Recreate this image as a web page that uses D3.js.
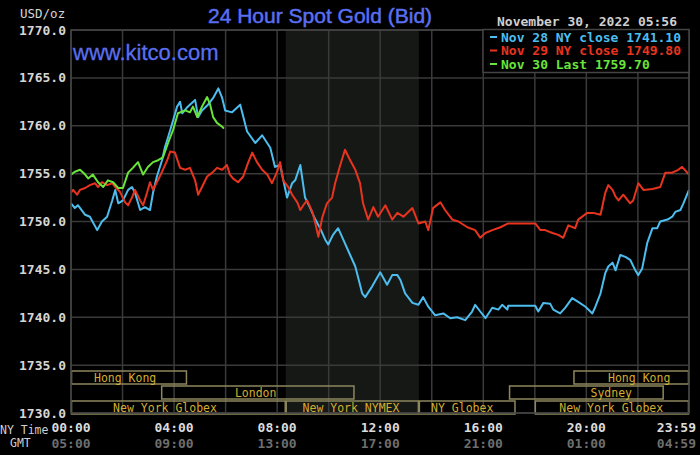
<!DOCTYPE html>
<html>
<head>
<meta charset="utf-8">
<script src="https://cdn.jsdelivr.net/npm/d3@7"></script>
<style>
  html, body { margin: 0; padding: 0; background: #000; }
  svg { display: block; }
  .mono { font-family: "DejaVu Sans Mono", "Liberation Mono", monospace; }
</style>
</head>
<body>
<svg width="700" height="455"></svg>
<script>
// Minutes after 00:00 NY time, and bid price
const nov28Min = [0,9,16,33,44,61,72,84,96,103,110,121,133,142,149,161,172,184,191,200,212,219,226,238,247,254,259,270,282,289,296,305,319,331,343,352,359,375,394,410,429,445,464,475,487,503,515,522,534,545,557,569,580,592,599,610,622,634,650,662,678,685,701,720,736,748,760,767,778,795,809,820,832,848,867,883,899,918,934,941,953,965,981,995,1004,1016,1018,1081,1088,1100,1116,1123,1139,1151,1167,1181,1198,1214,1221,1233,1244,1251,1261,1268,1279,1291,1302,1314,1321,1330,1342,1354,1365,1372,1389,1400,1407,1419,1426,1439];
const nov28Val = [1751.9,1751.4,1751.7,1750.7,1750.5,1749.1,1750.0,1750.5,1752.2,1753.3,1751.9,1752.2,1753.3,1753.6,1753.0,1751.2,1751.5,1751.2,1753.0,1754.7,1756.4,1757.8,1758.8,1760.6,1762.0,1762.5,1761.3,1761.9,1762.4,1762.7,1760.9,1761.6,1762.2,1762.9,1763.9,1762.9,1761.6,1761.4,1762.2,1759.4,1758.2,1759.0,1757.7,1755.7,1755.9,1752.5,1754.0,1754.3,1755.9,1752.5,1751.4,1750.2,1749.3,1748.1,1747.6,1748.6,1749.3,1748.1,1746.5,1745.3,1742.5,1742.1,1743.2,1744.7,1743.4,1744.4,1744.4,1743.9,1742.5,1741.5,1741.3,1742.1,1741.1,1740.2,1740.4,1739.9,1740.0,1739.7,1740.6,1741.3,1740.6,1739.9,1741.0,1740.8,1741.3,1740.8,1741.2,1741.2,1740.6,1741.5,1741.4,1740.8,1740.4,1741.0,1742.0,1741.6,1741.1,1740.4,1741.1,1742.5,1744.6,1745.3,1745.7,1744.9,1746.5,1746.3,1746.0,1744.9,1744.4,1745.1,1747.8,1749.3,1749.3,1750.0,1750.2,1750.5,1751.0,1751.2,1751.9,1753.3];

const nov29Min = [0,5,14,21,33,44,56,63,72,84,96,103,114,126,133,142,149,161,168,177,184,191,200,212,224,231,242,254,266,277,289,296,305,317,329,340,352,363,370,377,389,401,412,422,433,445,457,468,480,487,494,506,515,527,534,541,550,562,569,576,585,596,608,615,627,638,650,662,673,680,692,704,715,732,748,760,774,795,809,825,832,843,860,871,888,902,923,941,953,965,981,1000,1018,1081,1093,1104,1121,1135,1146,1158,1174,1181,1202,1216,1233,1244,1251,1261,1268,1275,1286,1302,1309,1321,1333,1354,1372,1384,1400,1414,1423,1439];
const nov29Val = [1753.0,1753.3,1752.8,1753.3,1753.5,1753.8,1754.0,1753.6,1754.1,1753.8,1754.0,1753.6,1753.1,1752.0,1751.7,1752.5,1753.3,1752.2,1751.7,1753.0,1754.1,1753.3,1754.1,1755.2,1756.4,1757.3,1757.2,1755.6,1755.4,1755.6,1754.3,1752.8,1753.6,1754.7,1755.1,1755.6,1755.4,1755.9,1754.9,1754.5,1754.1,1754.7,1756.1,1757.2,1756.2,1755.4,1754.9,1754.0,1755.2,1756.2,1754.3,1753.6,1752.8,1752.0,1751.2,1751.7,1752.2,1751.0,1749.8,1748.4,1750.4,1751.9,1752.5,1754.0,1755.9,1757.5,1756.4,1755.4,1754.0,1751.9,1750.2,1751.5,1750.5,1751.7,1750.2,1750.9,1750.5,1751.4,1749.8,1750.0,1749.1,1751.4,1752.0,1751.2,1750.2,1750.0,1749.4,1749.1,1748.3,1748.8,1749.1,1749.4,1749.8,1749.8,1749.1,1749.1,1748.8,1748.6,1748.3,1749.6,1749.3,1750.2,1750.9,1750.9,1750.7,1753.0,1753.8,1753.3,1752.6,1752.2,1752.8,1751.9,1752.2,1754.0,1753.3,1753.4,1753.6,1755.1,1755.1,1755.4,1755.7,1754.9];

const nov30Min = [0,9,21,33,40,51,63,75,86,98,110,121,133,144,156,168,179,191,203,214,226,238,249,266,277,284,294,305,317,324,331,340,352,356];
const nov30Val = [1754.9,1755.2,1755.4,1754.9,1754.5,1754.9,1754.1,1753.6,1754.3,1754.1,1753.5,1753.5,1755.1,1755.6,1756.2,1754.9,1755.7,1756.2,1756.4,1756.7,1758.2,1759.6,1761.3,1761.6,1761.4,1762.0,1760.9,1762.0,1763.0,1762.2,1760.9,1760.3,1759.9,1759.7];

const legendLabels = ["Nov 28 NY close 1741.10", "Nov 29 NY close 1749.80", "Nov 30 Last 1759.70"];
const seriesColors = ["#4cbdee", "#e8341f", "#69e43a"];

const yTicks = [1770, 1765, 1760, 1755, 1750, 1745, 1740, 1735, 1730];
const xTicks = [0, 240, 480, 720, 960, 1200, 1439];
const nyLabels = ["00:00", "04:00", "08:00", "12:00", "16:00", "20:00", "23:59"];
const gmtLabels = ["05:00", "09:00", "13:00", "17:00", "21:00", "01:00", "04:59"];

// trading sessions: name, row, start, end, label centre (minutes)
const sessName  = ["Hong Kong", "London", "New York Globex", "New York NYMEX", "NY Globex", "Sydney", "New York Globex", "Hong Kong"];
const sessRow   = [0, 1, 2, 2, 2, 1, 2, 0];
const sessStart = [0, 210, 0, 500, 810, 1020, 1080, 1170];
const sessEnd   = [270, 660, 500, 810, 1035, 1380, 1439, 1439];
const sessMid   = [126, 430, 219, 652, 911, 1258, 1258, 1323];

const svg = d3.select("svg");
const pLeft = 71, pRight = 689, pTop = 30, pBottom = 413;

const x = d3.scaleLinear().domain([0, 1439]).range([pLeft, pRight]);
const y = d3.scaleLinear().domain([1730, 1770]).range([pBottom, pTop]);

svg.append("rect").attr("width", 700).attr("height", 455).attr("fill", "#000");

// NYMEX shading
svg.append("rect")
  .attr("x", x(500)).attr("y", pTop)
  .attr("width", x(810) - x(500)).attr("height", pBottom - pTop)
  .attr("fill", "#151815");

// grid
const grid = svg.append("g").attr("stroke", "#3a3a3a").attr("stroke-width", 1.5);
grid.selectAll("line.h").data(yTicks).join("line")
  .attr("x1", pLeft).attr("x2", pRight)
  .attr("y1", d => y(d)).attr("y2", d => y(d));
grid.selectAll("line.v").data(d3.range(0, 1441, 120)).join("line")
  .attr("y1", pTop).attr("y2", pBottom)
  .attr("x1", d => x(Math.min(d, 1439))).attr("x2", d => x(Math.min(d, 1439)));

// session boxes
const sess = svg.append("g");
const rowTop = r => 371 + r * 15;
sessName.forEach((n, i) => {
  sess.append("rect")
    .attr("x", x(sessStart[i]) + 0.5).attr("y", rowTop(sessRow[i]))
    .attr("width", x(sessEnd[i]) - x(sessStart[i]) - 1).attr("height", 13)
    .attr("fill", "none").attr("stroke", "#8c875c").attr("stroke-width", 1.5);
  sess.append("text").attr("class", "mono")
    .attr("x", x(sessMid[i])).attr("y", rowTop(sessRow[i]) + 10.5)
    .attr("text-anchor", "middle").attr("font-size", 11.5)
    .attr("fill", "#d4ad32").text(n);
});

// lines
const series = [[nov28Min, nov28Val], [nov29Min, nov29Val], [nov30Min, nov30Val]];
const line = d3.line().x(d => x(d[0])).y(d => y(d[1]));
series.forEach((s, i) => {
  svg.append("path")
    .datum(d3.zip(s[0], s[1]))
    .attr("d", line)
    .attr("fill", "none")
    .attr("stroke", seriesColors[i])
    .attr("stroke-width", 2)
    .attr("stroke-linejoin", "round");
});

// y labels
svg.append("g").selectAll("text").data(yTicks).join("text")
  .attr("class", "mono")
  .attr("x", 66).attr("y", d => y(d) + 4.5)
  .attr("text-anchor", "end").attr("font-size", 13).attr("font-weight", "bold")
  .attr("fill", "#d6d6d6")
  .text(d => d.toFixed(1));
svg.append("text").attr("class", "mono")
  .attr("x", 20).attr("y", 18).attr("font-size", 12.5).attr("fill", "#d6d6d6")
  .text("USD/oz");

// x labels
xTicks.forEach((t, i) => {
  const last = i === xTicks.length - 1;
  const xx = last ? 696 : x(t);
  const anchor = last ? "end" : "middle";
  svg.append("text").attr("class", "mono")
    .attr("x", xx).attr("y", 432).attr("text-anchor", anchor)
    .attr("font-size", 13).attr("font-weight", "bold").attr("fill", "#dcdcdc")
    .text(nyLabels[i]);
  svg.append("text").attr("class", "mono")
    .attr("x", xx).attr("y", 448).attr("text-anchor", anchor)
    .attr("font-size", 13).attr("font-weight", "bold").attr("fill", "#6e6e6e")
    .text(gmtLabels[i]);
});
svg.append("text").attr("class", "mono").attr("x", 0).attr("y", 434)
  .attr("font-size", 11.5).attr("fill", "#cfcfcf").text("NY Time");
svg.append("text").attr("class", "mono").attr("x", 10).attr("y", 447)
  .attr("font-size", 11.5).attr("fill", "#cfcfcf").text("GMT");

// border
svg.append("rect")
  .attr("x", pLeft).attr("y", pTop).attr("width", pRight - pLeft).attr("height", pBottom - pTop)
  .attr("fill", "none").attr("stroke", "#444").attr("stroke-width", 1.5);

// titles
svg.append("text")
  .attr("x", 208).attr("y", 23)
  .attr("font-family", "Liberation Sans, Arial, sans-serif").attr("font-size", 21)
  .attr("fill", "#5a6ff0").attr("stroke", "#5a6ff0").attr("stroke-width", 0.5)
  .text("24 Hour Spot Gold (Bid)");
svg.append("text")
  .attr("x", 73).attr("y", 60)
  .attr("font-family", "Liberation Sans, Arial, sans-serif").attr("font-size", 22)
  .attr("fill", "#5a6ff0").attr("stroke", "#5a6ff0").attr("stroke-width", 0.3)
  .text("www.kitco.com");

svg.append("text").attr("class", "mono")
  .attr("x", 497).attr("y", 26).attr("font-size", 13).attr("font-weight", "bold")
  .attr("fill", "#cfcfcf").text("November 30, 2022 05:56");

// legend
const lg = svg.append("g");
lg.append("rect").attr("x", 483).attr("y", 29.5).attr("width", 206).attr("height", 43)
  .attr("fill", "#000").attr("stroke", "#444").attr("stroke-width", 1.5);
legendLabels.forEach((l, i) => {
  lg.append("line")
    .attr("x1", 490).attr("x2", 497).attr("y1", 37 + i * 13.5).attr("y2", 37 + i * 13.5)
    .attr("stroke", seriesColors[i]).attr("stroke-width", 2);
  lg.append("text").attr("class", "mono")
    .attr("x", 501).attr("y", 41.5 + i * 13.5)
    .attr("font-size", 13).attr("font-weight", "bold")
    .attr("fill", seriesColors[i]).text(l);
});
</script>
</body>
</html>
